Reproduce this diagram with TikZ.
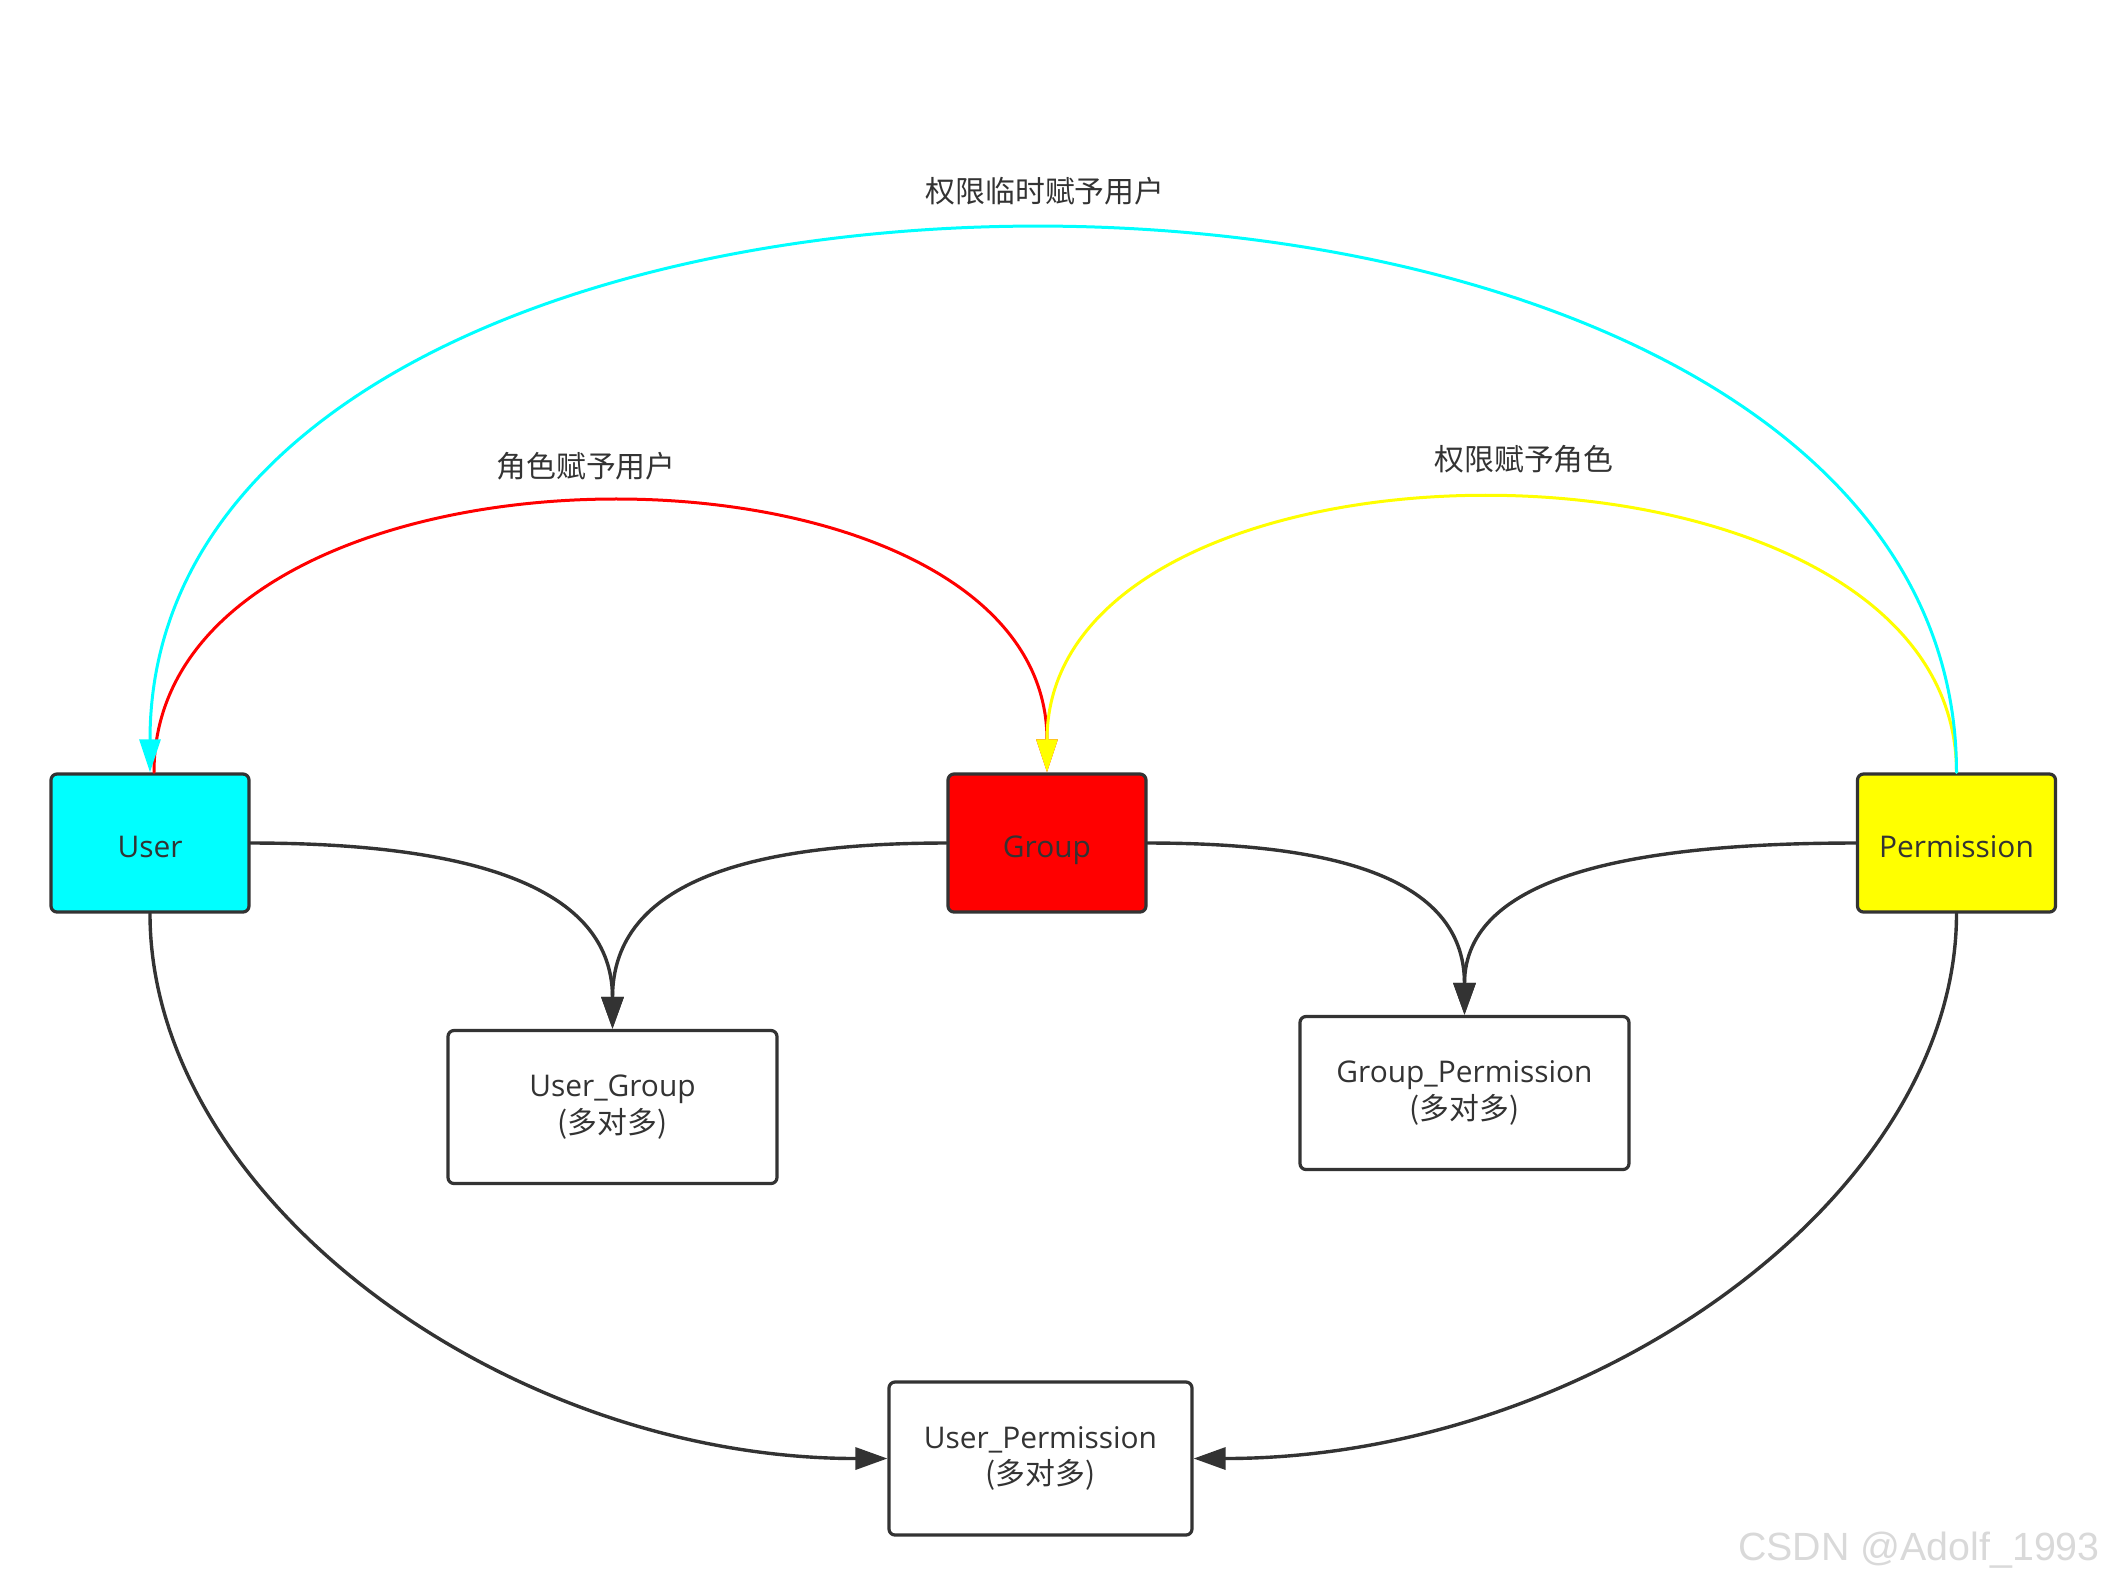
\documentclass[tikz,border=0pt]{standalone}
\usepackage{fontspec}
\setmainfont{Open Sans}
\newfontfamily\cjk{Noto Sans CJK SC}
\newfontfamily\markfont{Liberation Sans}
\usepackage{tikz}
\usetikzlibrary{arrows.meta,positioning}

\definecolor{ink}{HTML}{333333}
\definecolor{usercyan}{HTML}{00FFFF}
\definecolor{groupred}{HTML}{FF0000}
\definecolor{permyellow}{HTML}{FFFF00}
\newcommand{\diagfont}{\fontsize{8.5pt}{10.4pt}\selectfont}

\begin{document}
\begin{tikzpicture}[x=1mm,y=1mm,line cap=round,line join=round,
  entity/.style={draw=ink,line width=0.32mm,rounded corners=0.6mm,minimum width=19.8mm,minimum height=13.8mm,text=ink,font=\diagfont},
  table/.style={entity,text height=3mm,text depth=0.2mm},
  linkbox/.style={entity,fill=white,minimum height=15.3mm,align=center},
  caption/.style={text=ink,font=\diagfont\cjk,inner sep=0pt},
  link/.style={draw=ink,line width=0.34mm,-{Triangle[length=3.2mm,width=2.2mm]}},
  grant/.style={line width=0.3mm,-{Triangle[length=3.3mm,width=2.1mm]}}]
\path[use as bounding box] (0,0) rectangle (210.7,-158.4);
\node[table,fill=usercyan] (user) at (15.0,-84.3) {User};
\node[table,fill=groupred] (group) at (104.7,-84.3) {Group};
\node[table,fill=permyellow] (perm) at (195.65,-84.3) {Permission};
\node[linkbox,minimum width=32.9mm] (usergroup) at (61.25,-110.7) {User\_Group\\{\cjk (多对多)}};
\node[linkbox,minimum width=32.9mm] (groupperm) at (146.45,-109.3) {Group\_Permission\\{\cjk (多对多)}};
\node[linkbox,minimum width=30.3mm] (userperm) at (104.05,-145.85) {User\_Permission\\{\cjk (多对多)}};
\node[caption] (tempgrant) at (104.5,-19.1) {权限临时赋予用户};
\node[caption] (rolegrant) at (58.6,-46.6) {角色赋予用户};
\node[caption] (permgrant) at (152.4,-45.9) {权限赋予角色};
\node[text=black!15,font=\markfont\fontsize{11.2pt}{13pt}\selectfont,inner sep=0pt] (mark) at (191.9,-155.0) {CSDN @Adolf\_1993};
\draw[link] (user.east) .. controls +(20,0) and +(0,15) .. (usergroup.north);
\draw[link] (group.west) .. controls +(-19,0) and +(0,15) .. (usergroup.north);
\draw[link] (group.east) .. controls +(18,0) and +(0,14) .. (groupperm.north);
\draw[link] (perm.west) .. controls +(-22,0) and +(0,14) .. (groupperm.north);
\draw[link] (user.south) .. controls +(0,-28.3) and +(-38.4,0) .. (userperm.west);
\draw[link] (perm.south) .. controls +(0,-28.3) and +(39.7,0) .. (userperm.east);
\draw[grant,draw=groupred] ([xshift=0.4mm]user.north) .. controls +(0,35.9) and +(0,35.9) .. (group.north);
\draw[grant,draw=permyellow] (perm.north) .. controls +(0,36.4) and +(0,36.4) .. (group.north);
\draw[grant,draw=usercyan] (perm.north) .. controls +(0,72.3) and +(0,72.3) .. (user.north);
\end{tikzpicture}
\end{document}
